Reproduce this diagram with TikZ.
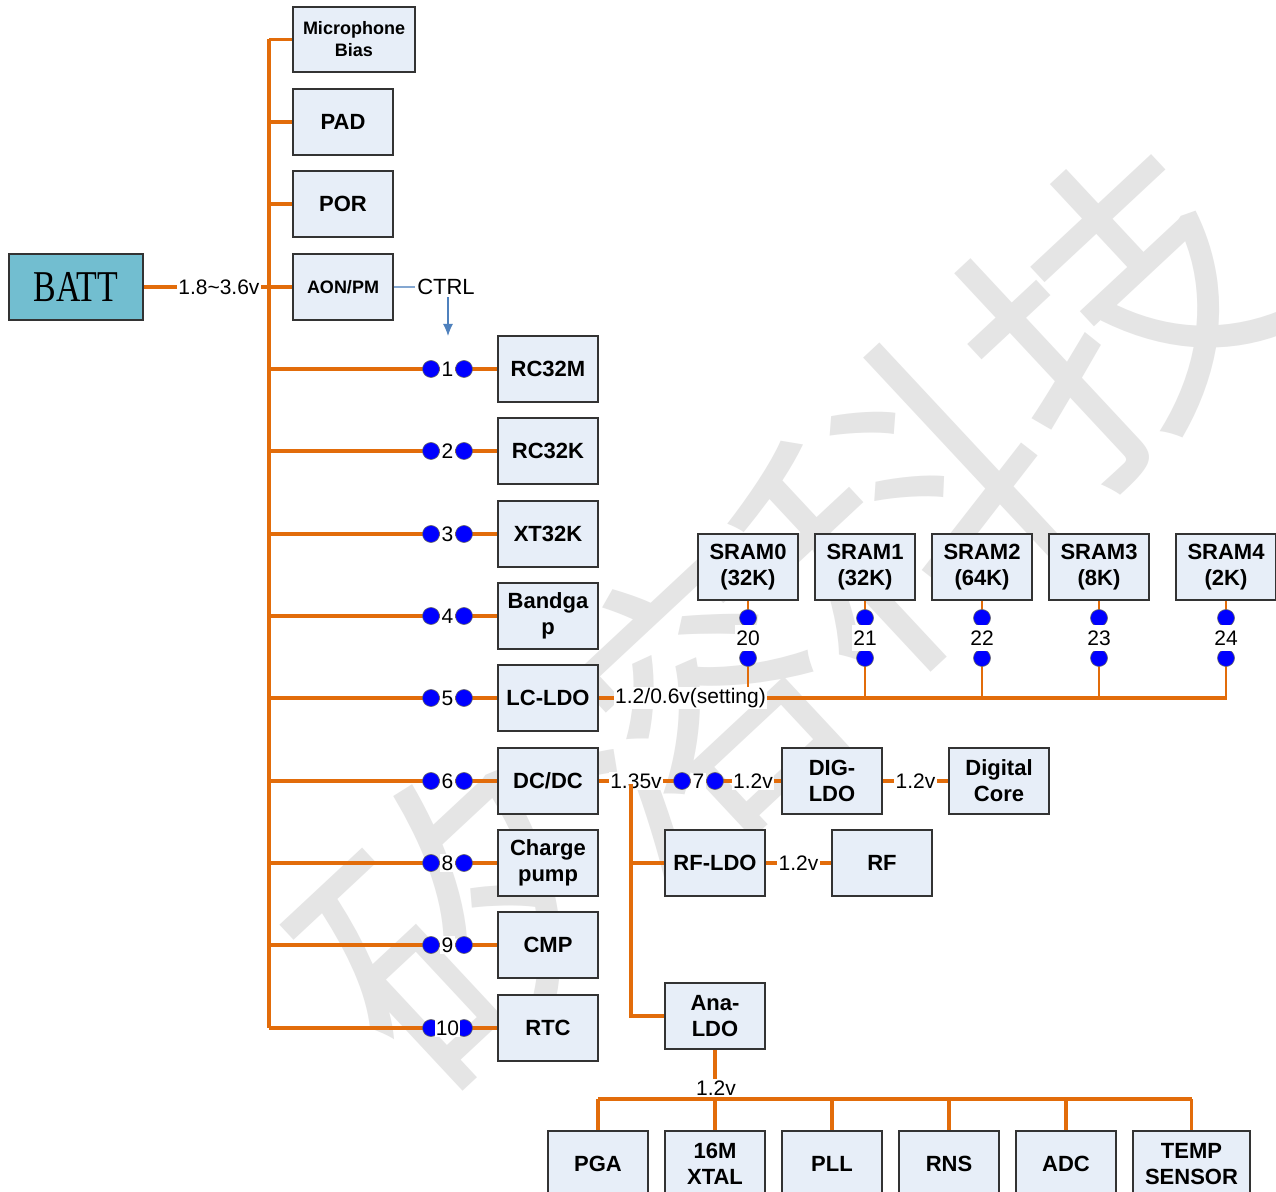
\documentclass[tikz,border=0pt]{standalone}
\usepackage{fontspec}
\setmainfont{Liberation Sans}
\newfontfamily\battfont{Liberation Serif}
\newfontfamily\wmfont{Noto Sans CJK SC}
\usepackage{graphicx}
\usepackage{tikz}
\usetikzlibrary{positioning, arrows.meta, calc}
\definecolor{pwr}{RGB}{226,108,10}
\definecolor{boxbg}{RGB}{231,238,248}
\definecolor{battbg}{RGB}{114,190,208}
\definecolor{ctrlc}{RGB}{79,129,189}
\definecolor{swblue}{RGB}{0,0,255}
\definecolor{wmgray}{RGB}{229,229,229}
\tikzstyle{blk}  = [rectangle, draw=black!80, fill=boxbg, line width=0.8pt, align=center,
                    minimum width=50pt, minimum height=33pt, inner sep=1pt,
                    font=\bfseries\fontsize{11}{13}\selectfont]
\tikzstyle{wire} = [draw=pwr, line width=1.6pt]

\begin{document}
\begin{tikzpicture}[
  x=0.5pt, y=-0.5pt,
  >={Latex[length=6pt,width=5pt]},
  batt/.style={blk, fill=battbg, minimum width=67pt, font=\battfont\fontsize{22}{22}\selectfont},
  small/.style={blk, font=\bfseries\fontsize{9}{11}\selectfont},
  sw/.style={circle, fill=swblue, draw=black!60, line width=0.3pt,
             minimum size=8.5pt, inner sep=0pt},
  num/.style={fill=white, inner sep=0.6pt, font=\fontsize{10.5}{12}\selectfont},
  vlbl/.style={fill=white, inner sep=0.6pt, font=\fontsize{10.5}{12}\selectfont}
]
\fill[white] (0,0) rectangle (1276,1192);
\useasboundingbox (0,0) rectangle (1276,1192);
% watermark
\node[text=wmgray, rotate=43, inner sep=0pt,
      font=\wmfont\fontsize{150}{150}\selectfont] (wm) at (790,615) {矽溶科技};

% battery and main rail
\node[batt] (batt) at (76,287) {\scalebox{0.77}[1]{BATT}};
\coordinate (bt) at (269,39);
\coordinate (bb) at (269,1028);
\draw[wire] (bt) -- (bb);

\node[small, minimum width=61pt, minimum height=32.5pt] (mic) at (354,39.5) {Microphone\\Bias};
\node[blk] (pad) at (343,122) {PAD};
\node[blk] (por) at (343,204) {POR};
\node[small] (aon) at (343,287) {AON/PM};
\foreach \b in {mic,pad,por,aon} \draw[wire] (\b.west -| bt) -- (\b.west);
\draw[wire] (batt.east) -- (batt.east -| bt) node[vlbl, pos=0.6] {1.8\textasciitilde3.6v};

\node[inner sep=1pt, font=\fontsize{11}{12}\selectfont] (ctrl) at (446,287) {CTRL};
\coordinate (ctrlend) at (448,336);
\draw[ctrlc!70, line width=0.6pt] (aon.east) -- (ctrl.west);
\draw[ctrlc, line width=0.6pt, ->] (ctrl.south -| ctrlend) -- (ctrlend);

% switched blocks
\foreach \n/\y/\nm/\txt in {1/369/rc32m/RC32M, 2/451/rc32k/RC32K, 3/534/xt32k/XT32K,
    4/616/bgap/{Bandga\\p}, 5/698/lcldo/LC-LDO, 6/781/dcdc/{DC/DC},
    8/863/cpump/{Charge\\pump}, 9/945/cmp/CMP, 10/1028/rtc/RTC}{
  \node[blk] (\nm) at (548,\y) {\txt};
  \coordinate (sa\n) at (431,\y);
  \coordinate (sb\n) at (464,\y);
  \draw[wire] (\nm.west -| bt) -- (sa\n) -- (sb\n) -- (\nm.west);
  \node[sw] at (sa\n) {};
  \node[sw] at (sb\n) {};
  \node[num] (n\n) at ($(sa\n)!0.5!(sb\n)$) {\n};
}

% SRAM banks
\coordinate (sbus) at (1227,698);
\foreach \i/\x/\sz in {0/748/32K, 1/865/32K, 2/982/64K, 3/1099/8K, 4/1226/2K}{
  \node[blk] (sram\i) at (\x,567) {SRAM\i\\(\sz)};
  \coordinate (ta\i) at (\x,618);
  \coordinate (tb\i) at (\x,658);
  \draw[wire, line width=1.3pt] (sram\i.south) -- (ta\i) -- (tb\i) -- (tb\i |- sbus);
  \node[sw] at (ta\i) {};
  \node[sw] at (tb\i) {};
  \node[num, inner ysep=3pt] at ($(ta\i)!0.5!(tb\i)$) {2\i};
}
\draw[wire] (lcldo.east) -- (sbus) node[vlbl, pos=0.146] {1.2/0.6v(setting)};

% DC/DC outputs
\node[blk] (digldo) at (832,781) {DIG-\\LDO};
\node[blk] (dcore) at (999,781) {Digital\\Core};
\node[blk] (rfldo) at (715,863) {RF-LDO};
\node[blk] (rf) at (882,863) {RF};
\node[blk] (analdo) at (715,1016) {Ana-\\LDO};
\coordinate (sa7) at (682,781);
\coordinate (sb7) at (715,781);
\draw[wire] (dcdc.east) -- (sa7) -- (sb7) -- (digldo.west);
\node[sw] at (sa7) {};
\node[sw] at (sb7) {};
\node[num] (n7) at ($(sa7)!0.5!(sb7)$) {7};
\node[vlbl] (v135) at (636,781) {1.35v};
\node[vlbl] (v12a) at (753,781) {1.2v};
\draw[wire] (digldo.east) -- (dcore.west) node[vlbl, midway] {1.2v};
\draw[wire] (rfldo.east) -- (rf.west) node[vlbl, midway] {1.2v};
\coordinate (vj) at (631,784);
\draw[wire] (vj) -- (vj |- analdo.west) -- (analdo.west);
\draw[wire] (vj |- rfldo.west) -- (rfldo.west);

% analog blocks
\node[blk] (pga) at (598,1164) {PGA};
\node[blk] (xtal) at (715,1164) {16M\\XTAL};
\node[blk] (pll) at (832,1164) {PLL};
\node[blk] (rns) at (949,1164) {RNS};
\node[blk] (adc) at (1066,1164) {ADC};
\node[blk, minimum width=58.5pt] (temp) at (1191.5,1164) {TEMP\\SENSOR};
\draw[wire] (analdo.south) -- (xtal.north);
\node[vlbl] (v12c) at (716,1088) {1.2v};
\coordinate (abus) at (0,1099);
\draw[wire] (pga.north |- abus) -- (temp.north |- abus);
\foreach \b in {pga,pll,rns,adc,temp} \draw[wire] (\b.north |- abus) -- (\b.north);
\end{tikzpicture}
\end{document}
